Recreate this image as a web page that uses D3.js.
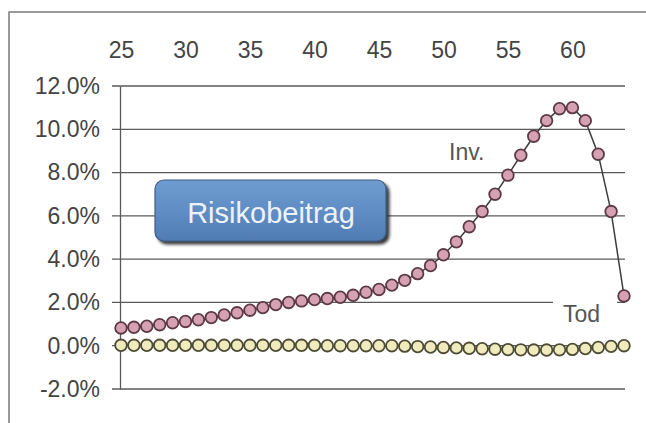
<!DOCTYPE html>
<html><head><meta charset="utf-8">
<script src="https://cdn.jsdelivr.net/npm/d3@7"></script>
<style>
html,body{margin:0;padding:0;background:#fff;}
svg{display:block;font-family:"Liberation Sans",Arial,sans-serif;}
</style></head><body>
<svg id="chart" width="646" height="423"></svg>
<script>
// Entry ages (one marker per year)
const ages = [25,26,27,28,29,30,31,32,33,34,35,36,37,38,39,40,41,42,43,44,
              45,46,47,48,49,50,51,52,53,54,55,56,57,58,59,60,61,62,63,64];
// Risk premium share for disability (Inv.) in percent
const invValues = [0.82,0.85,0.90,0.97,1.06,1.12,1.20,1.30,1.42,1.52,
                   1.64,1.76,1.90,2.00,2.07,2.13,2.18,2.24,2.33,2.47,
                   2.60,2.80,3.02,3.33,3.70,4.20,4.80,5.50,6.20,7.00,
                   7.88,8.80,9.68,10.40,10.95,11.00,10.40,8.85,6.20,2.30];
// Risk premium share for death (Tod) in percent
const todValues = [0.02,0.02,0.02,0.02,0.02,0.02,0.02,0.02,0.02,0.02,
                   0.02,0.02,0.02,0.02,0.02,0.02,0.00,0.00,0.00,0.00,
                   0.00,0.00,-0.02,-0.04,-0.06,-0.08,-0.10,-0.12,-0.14,-0.16,
                   -0.18,-0.19,-0.20,-0.20,-0.19,-0.17,-0.13,-0.08,-0.03,0.00];
const ageTicks = [25,30,35,40,45,50,55,60];
const pctTicks = [-2,0,2,4,6,8,10,12];
const seriesLabels = ["Inv.","Tod"];
const boxTitle = "Risikobeitrag";

const svg = d3.select("#chart");
const plotLeft = 120, plotRight = 625;
const x = d3.scalePoint().domain(ages).range([121, 624]);
const y = d3.scaleLinear().domain([-2, 12]).range([389, 86]);

// outer frame (top and left edges)
svg.append("path").attr("d", "M9,423V12H646")
  .attr("fill", "none").attr("stroke", "#7a7a7a").attr("stroke-width", 1.5);

// horizontal gridlines with short outside ticks
svg.append("g").selectAll("line").data(pctTicks).join("line")
  .attr("x1", 112).attr("x2", plotRight)
  .attr("y1", d => y(d)).attr("y2", d => y(d))
  .attr("stroke", "#5a5a5a").attr("stroke-width", 1.3);

// left value axis (plain hyphen for negatives)
const yAxis = svg.append("g").attr("transform", `translate(${plotLeft},0)`)
  .call(d3.axisLeft(y).tickValues(pctTicks).tickSize(0).tickPadding(20)
    .tickFormat(d => d.toFixed(1) + "%"));
yAxis.select(".domain").attr("stroke", "#5a5a5a").attr("stroke-width", 1.3);
yAxis.selectAll("text").attr("font-size", 23).attr("fill", "#444")
  .attr("font-family", "Liberation Sans, Arial, sans-serif");

// age axis along the top
const xAxis = svg.append("g").attr("transform", "translate(0,58)")
  .call(d3.axisTop(x).tickValues(ageTicks).tickSize(0).tickPadding(0));
xAxis.select(".domain").remove();
xAxis.selectAll("text").attr("font-size", 23).attr("fill", "#444")
  .attr("font-family", "Liberation Sans, Arial, sans-serif");

// title box
const defs = svg.append("defs");
const grad = defs.append("linearGradient").attr("id", "boxFill")
  .attr("x1", 0).attr("y1", 0).attr("x2", 0).attr("y2", 1);
grad.append("stop").attr("offset", "0%").attr("stop-color", "#6f9cd0");
grad.append("stop").attr("offset", "55%").attr("stop-color", "#5e8cc3");
grad.append("stop").attr("offset", "100%").attr("stop-color", "#4f7cb2");
const shadow = defs.append("filter").attr("id", "boxShadow")
  .attr("x", "-10%").attr("y", "-20%").attr("width", "130%").attr("height", "150%");
shadow.append("feDropShadow").attr("dx", 3).attr("dy", 3).attr("stdDeviation", 1.5)
  .attr("flood-color", "#222").attr("flood-opacity", 0.9);

const box = svg.append("g");
box.append("rect").attr("x", 155).attr("y", 180).attr("width", 231).attr("height", 61)
  .attr("rx", 9).attr("fill", "url(#boxFill)").attr("stroke", "#3a5d86")
  .attr("stroke-width", 1.2).attr("filter", "url(#boxShadow)");
box.append("text").attr("x", 271).attr("y", 223).attr("text-anchor", "middle")
  .attr("font-size", 29).attr("fill", "#eef3f9").text(boxTitle);

// series labels
svg.append("text").attr("x", 449).attr("y", 160).attr("font-size", 23)
  .attr("fill", "#555").text(seriesLabels[0]);
svg.append("rect").attr("x", 553).attr("y", 298).attr("width", 64).attr("height", 28)
  .attr("fill", "#fff");
svg.append("text").attr("x", 563).attr("y", 322).attr("font-size", 23)
  .attr("fill", "#555").text(seriesLabels[1]);

// series lines and markers
const series = [
  { values: todValues, fill: "#efebbd", stroke: "#4e4b35" },
  { values: invValues, fill: "#d7a1b4", stroke: "#5c3a44" }
];
const line = d3.line().x(d => x(d.age)).y(d => y(d.v));
series.forEach(s => {
  const pts = ages.map((a, i) => ({ age: a, v: s.values[i] }));
  svg.append("path").datum(pts).attr("d", line)
    .attr("fill", "none").attr("stroke", "#3d3d3d").attr("stroke-width", 1.5);
  svg.append("g").selectAll("circle").data(pts).join("circle")
    .attr("cx", d => x(d.age)).attr("cy", d => y(d.v)).attr("r", 5.8)
    .attr("fill", s.fill).attr("stroke", s.stroke).attr("stroke-width", 1.8);
});
</script>
</body></html>
